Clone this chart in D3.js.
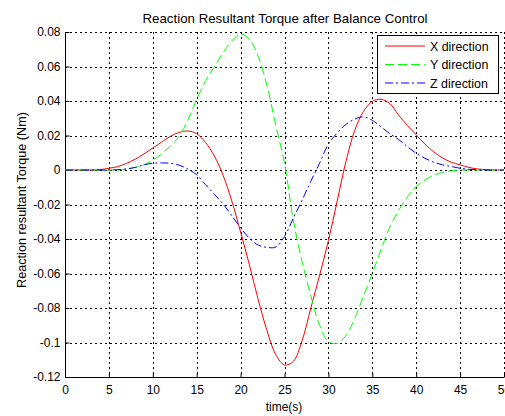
<!DOCTYPE html>
<html>
<head>
<meta charset="utf-8">
<script src="https://cdn.jsdelivr.net/npm/d3@7"></script>
<style>
html,body{margin:0;padding:0;background:#fff;}
svg{display:block;font-family:"Liberation Sans",Arial,sans-serif;}
</style>
</head>
<body>
<svg id="chart" width="505" height="416"></svg>
<script>
// ---- data ----
const time = [0,1,2,3,4,5,6,7,8,9,10,11,12,13,14,15,16,17,18,19,20,21,22,23,24,25,26,27,28,29,30,31,32,33,34,35,36,37,38,39,40,41,42,43,44,45,46,47,48,49,50];
const xDirection = [0,0,0,0,0.0002,0.001,0.002,0.0038,0.0063,0.0093,0.0127,0.0162,0.0195,0.0218,0.0226,0.021,0.016,0.0082,-0.003,-0.018,-0.036,-0.055,-0.075,-0.093,-0.107,-0.113,-0.111,-0.099,-0.08,-0.061,-0.041,-0.018,0.005,0.023,0.034,0.0398,0.041,0.0385,0.0318,0.0258,0.0203,0.015,0.0105,0.007,0.0045,0.003,0.0015,0.0006,0.0002,0,0];
const yDirection = [0,0,0,0,0,0,0,0.0005,0.0015,0.003,0.0058,0.0093,0.0138,0.0195,0.029,0.041,0.0515,0.0598,0.068,0.0748,0.0788,0.0758,0.066,0.049,0.026,0.004,-0.029,-0.053,-0.073,-0.09,-0.0995,-0.1005,-0.096,-0.086,-0.073,-0.06,-0.046,-0.033,-0.0235,-0.0155,-0.0097,-0.0058,-0.003,-0.0015,-0.0005,0,0,0,0,0,0];
const zDirection = [0,0,0,0,0,0,0.0002,0.0006,0.0015,0.003,0.0039,0.0041,0.0039,0.0028,0.0005,-0.0028,-0.0085,-0.014,-0.0197,-0.0265,-0.0335,-0.0395,-0.0435,-0.0448,-0.0447,-0.0385,-0.028,-0.0175,-0.0065,0.004,0.015,0.0215,0.0265,0.0295,0.0308,0.0288,0.025,0.021,0.0177,0.0135,0.0097,0.0068,0.0045,0.003,0.002,0.001,0.0004,0.0001,0,0,0];
const seriesNames = ["X direction","Y direction","Z direction"];
const xTicks = [0,5,10,15,20,25,30,35,40,45,50];
const yTicks = [0.08,0.06,0.04,0.02,0,-0.02,-0.04,-0.06,-0.08,-0.1,-0.12];
const yTickLabels = ["0.08","0.06","0.04","0.02","0","-0.02","-0.04","-0.06","-0.08","-0.1","-0.12"];
const titleText = "Reaction Resultant Torque after Balance Control";
const xLabel = "time(s)";
const yLabel = "Reaction resultant Torque (Nm)";

// ---- styles ----
const colors = ["#ff0000","#00ff00","#0000ff"];
const dashes = [null,"9,4","8,3,2,3"];

// ---- layout ----
const svg = d3.select("#chart");
const L = 65, R = 504, T = 32, B = 377;
const x = d3.scaleLinear().domain([0,50]).range([L,R]);
const y = d3.scaleLinear().domain([-0.12,0.08]).range([B,T]);

// grid
const grid = svg.append("g").attr("stroke","#000").attr("stroke-width",1).attr("stroke-dasharray","2,3");
grid.selectAll("line.v").data(xTicks.slice(1)).enter().append("line")
  .attr("x1",d=>Math.round(x(d))+0.5).attr("x2",d=>Math.round(x(d))+0.5)
  .attr("y1",T).attr("y2",B);
grid.selectAll("line.h").data(yTicks.slice(0,-1)).enter().append("line")
  .attr("x1",L).attr("x2",R)
  .attr("y1",d=>Math.round(y(d))+0.5).attr("y2",d=>Math.round(y(d))+0.5);

// axes
const xAxis = d3.axisBottom(x).tickValues(xTicks).tickSize(-4).tickPadding(8).tickFormat(d3.format("d"));
const yAxis = d3.axisLeft(y).tickValues(yTicks).tickSize(-4).tickPadding(5).tickFormat((d,i)=>yTickLabels[i]);
const gx = svg.append("g").attr("transform",`translate(0,${B+0.5})`).call(xAxis);
const gy = svg.append("g").attr("transform",`translate(${L+0.5},0)`).call(yAxis);
[gx,gy].forEach(g=>{
  g.select(".domain").attr("stroke","#000");
  g.selectAll(".tick line").attr("stroke","#000");
  g.selectAll(".tick text").attr("font-size",12).attr("fill","#000").attr("font-family","Liberation Sans, Arial, sans-serif");
});
gx.select(".domain").attr("d",`M${L},0H${R}`);
gy.select(".domain").attr("d",`M0,${T}V${B}`);

// lines
const seriesData = [xDirection,yDirection,zDirection];
const line = d3.line().x((d,i)=>x(time[i])).y(d=>y(d)).curve(d3.curveCatmullRom.alpha(0.5));
seriesData.forEach((s,k)=>{
  svg.append("path").datum(s).attr("d",line)
    .attr("fill","none").attr("stroke",colors[k]).attr("stroke-width",1)
    .attr("stroke-dasharray",dashes[k]);
});

// title and labels
svg.append("text").attr("x",285).attr("y",22.5).attr("text-anchor","middle")
  .attr("font-size",13.3).text(titleText);
svg.append("text").attr("x",284).attr("y",411).attr("text-anchor","middle")
  .attr("font-size",12).text(xLabel);
svg.append("text").attr("transform","translate(26,200) rotate(-90)").attr("text-anchor","middle")
  .attr("font-size",12.7).text(yLabel);

// legend
const lg = svg.append("g");
lg.append("rect").attr("x",377.5).attr("y",35.5).attr("width",121).attr("height",58)
  .attr("fill","#fff").attr("stroke","#000");
seriesNames.forEach((n,k)=>{
  const yy = 46 + k*18.5;
  lg.append("line").attr("x1",385).attr("x2",425).attr("y1",yy).attr("y2",yy)
    .attr("stroke",colors[k]).attr("stroke-dasharray",dashes[k]);
  lg.append("text").attr("x",430).attr("y",yy+4.5).attr("font-size",12.4).text(n);
});
</script>
</body>
</html>
